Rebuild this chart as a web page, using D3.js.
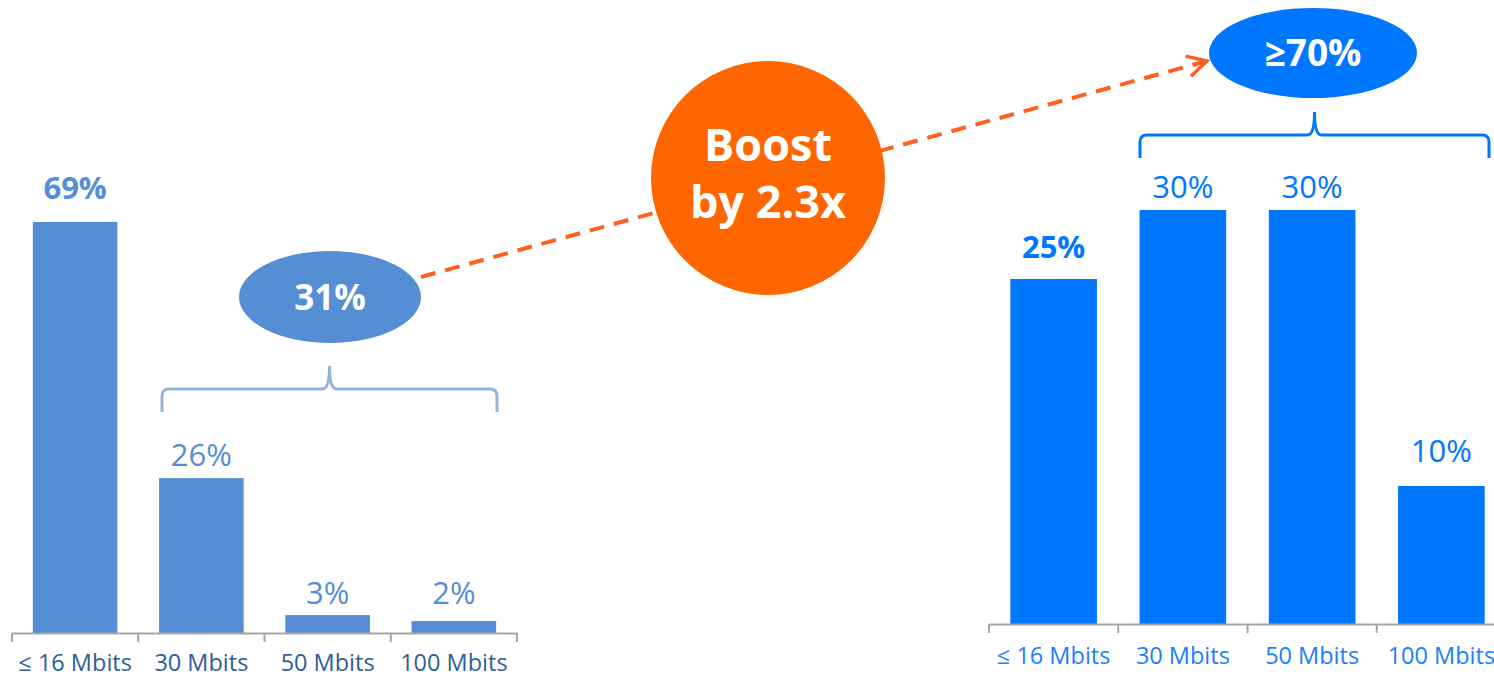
<!DOCTYPE html>
<html><head><meta charset="utf-8">
<script src="https://cdn.jsdelivr.net/npm/d3@7"></script>
<style>body{margin:0;background:#fff}svg{display:block}</style>
</head><body>
<svg id="c" width="1494" height="677"></svg>
<script>
const categories = ["≤ 16 Mbits", "30 Mbits", "50 Mbits", "100 Mbits"];
const beforeValues = [69, 26, 3, 2];
const afterValues = [25, 30, 30, 10];
const beforeBold = [true, false, false, false];
const afterBold = [true, false, false, false];
const beforeShare = "31%";
const afterShare = "≥70%";
const boostLines = ["Boost", "by 2.3x"];

// layout constants (label gaps above bars, px)
const beforeGap = [23, 12, 11, 17];
const afterGap = [21, 12, 12, 24];

const svg = d3.select("#c");
const font = "'Open Sans', sans-serif";

function drawChart(cfg) {
  const x = d3.scaleBand().domain(categories).range([cfg.x0, cfg.x1]).paddingInner(0.33).paddingOuter(0.165);
  const y = d3.scaleLinear().domain([0, cfg.max]).range([cfg.base, cfg.top]);
  const g = svg.append("g");
  g.selectAll("rect").data(cfg.values).join("rect")
    .attr("x", (d, i) => x(categories[i]))
    .attr("width", x.bandwidth())
    .attr("y", d => y(d))
    .attr("height", d => cfg.base - y(d))
    .attr("fill", cfg.color);
  g.selectAll("text.v").data(cfg.values).join("text").attr("class", "v")
    .attr("x", (d, i) => x(categories[i]) + x.bandwidth() / 2)
    .attr("y", (d, i) => y(d) - cfg.gap[i])
    .attr("text-anchor", "middle")
    .attr("font-family", font)
    .attr("font-size", 31)
    .attr("font-weight", (d, i) => cfg.bold[i] ? 700 : 400)
    .attr("fill", cfg.color)
    .text(d => d + "%");
  const step = x.step();
  const b0 = x(categories[0]) - step * 0.165;
  const tickXs = d3.range(categories.length + 1).map(i => b0 + i * step);
  g.append("line").attr("x1", tickXs[0]).attr("x2", cfg.lineEnd || tickXs[tickXs.length - 1])
    .attr("y1", cfg.base + 0.5).attr("y2", cfg.base + 0.5).attr("stroke", "#a6a6a6").attr("stroke-width", 2);
  g.selectAll("line.t").data(tickXs).join("line").attr("class", "t")
    .attr("x1", d => d).attr("x2", d => d).attr("y1", cfg.base).attr("y2", cfg.base + 9)
    .attr("stroke", "#a6a6a6").attr("stroke-width", 2);
  g.selectAll("text.c").data(categories).join("text").attr("class", "c")
    .attr("x", d => x(d) + x.bandwidth() / 2)
    .attr("y", cfg.base + cfg.labelDy)
    .attr("text-anchor", "middle")
    .attr("font-family", font).attr("font-size", 23.5)
    .attr("fill", cfg.labelColor)
    .text(d => d);
  return {x, y};
}

drawChart({x0: 12, x1: 517, base: 633, top: 222, max: 69, values: beforeValues, bold: beforeBold, gap: beforeGap,
  color: "#558ed5", labelColor: "#2f5e98", labelDy: 38});
drawChart({x0: 989, x1: 1506, base: 624, top: 210, max: 30, values: afterValues, bold: afterBold, gap: afterGap,
  color: "#0077ff", labelColor: "#1a7fff", labelDy: 40, lineEnd: 1494});

function brace(xa, xb, yTop, yEnd, yMid, color) {
  const xm = (xa + xb) / 2, r = 7;
  const p = d3.path();
  p.moveTo(xa, yEnd);
  p.lineTo(xa, yTop + r);
  p.quadraticCurveTo(xa, yTop, xa + r, yTop);
  p.lineTo(xm - r, yTop);
  p.quadraticCurveTo(xm, yTop, xm, yMid);
  p.quadraticCurveTo(xm, yTop, xm + r, yTop);
  p.lineTo(xb - r, yTop);
  p.quadraticCurveTo(xb, yTop, xb, yTop + r);
  p.lineTo(xb, yEnd);
  svg.append("path").attr("d", p.toString()).attr("fill", "none").attr("stroke", color).attr("stroke-width", 3);
}
brace(162, 497, 389, 412, 366, "#95b3d7");
brace(1140, 1489, 135, 158, 112, "#0077ff");

// dashed arrow
svg.append("defs").append("marker").attr("id", "ah").attr("viewBox", "0 0 10 10")
  .attr("refX", 8.5).attr("refY", 5).attr("markerWidth", 6.5).attr("markerHeight", 6.5).attr("orient", "auto")
  .append("path").attr("d", "M1,1 L8.5,5 L1,9").attr("fill", "none").attr("stroke", "#ff5f1f").attr("stroke-width", 1.3);
svg.append("line").attr("x1", 421).attr("y1", 277).attr("x2", 1207).attr("y2", 61)
  .attr("stroke", "#ff5f1f").attr("stroke-width", 4).attr("stroke-dasharray", "15,10")
  .attr("marker-end", "url(#ah)");

// ellipses
function bubble(cx, cy, rx, ry, color, txt, fs) {
  svg.append("ellipse").attr("cx", cx).attr("cy", cy).attr("rx", rx).attr("ry", ry).attr("fill", color);
  svg.append("text").attr("x", cx).attr("y", cy + fs * 0.36).attr("text-anchor", "middle")
    .attr("font-family", font).attr("font-weight", 700).attr("font-size", fs).attr("fill", "#fff").text(txt);
}
bubble(330, 297, 91, 46, "#558ed5", beforeShare, 35);
bubble(1313, 53, 104, 45, "#0077ff", afterShare, 37);

svg.append("circle").attr("cx", 768).attr("cy", 178).attr("r", 117).attr("fill", "#ff6600");
svg.selectAll("text.b").data(boostLines).join("text").attr("class", "b")
  .attr("x", 768).attr("y", (d, i) => 161 + i * 57).attr("text-anchor", "middle")
  .attr("font-family", font).attr("font-weight", 700).attr("font-size", 45).attr("fill", "#fff").text(d => d);
</script>
</body></html>
